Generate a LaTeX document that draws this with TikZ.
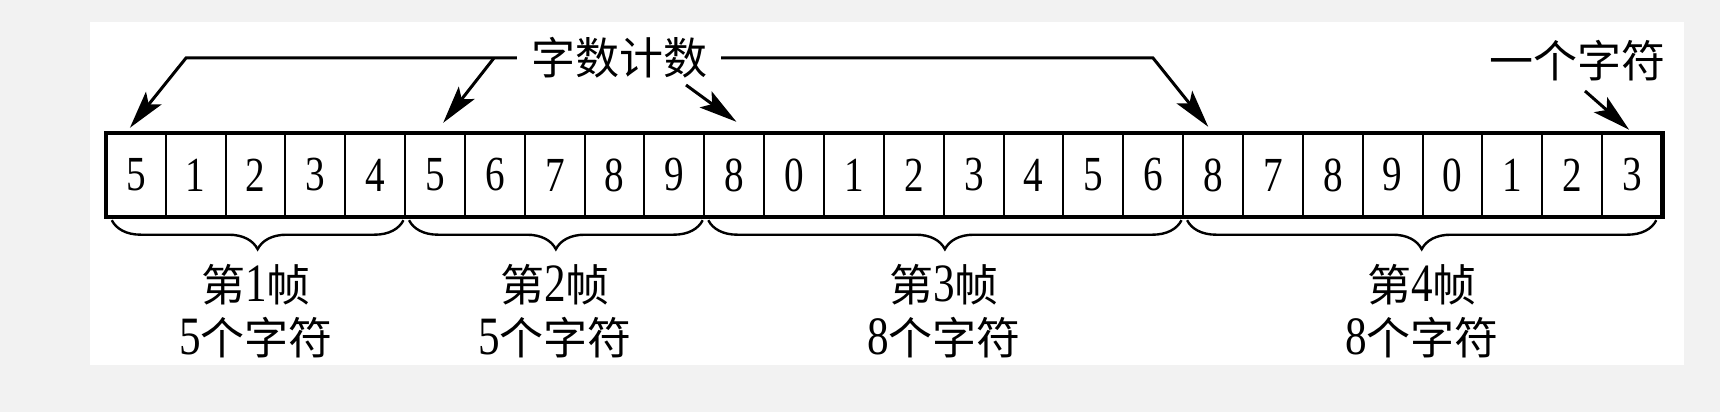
\documentclass[tikz,border=0pt]{standalone}
\usepackage{fontspec}
\setmainfont{Liberation Serif}
\newfontfamily\cjk{Noto Sans CJK SC}
\newfontfamily\dig[FakeStretch=0.8]{Liberation Serif}
\usetikzlibrary{arrows.meta,decorations.pathreplacing,calc}
\definecolor{bgout}{RGB}{242,242,242}
\begin{document}
\begin{tikzpicture}[x=1pt,y=-1pt,
  cell/.style={minimum width=59.85pt,minimum height=84pt,inner sep=0pt,font=\dig\fontsize{49}{49}\selectfont},
  arr/.style={line width=3pt,-{Stealth[length=38pt,width=20pt,inset=8pt]}},
  brc/.style={decorate,decoration={brace,mirror,amplitude=29pt},line width=2.4pt},
  lbl/.style={inner sep=0pt,font=\cjk\fontsize{44}{44}\selectfont}
]
\fill[bgout] (0,0) rectangle (1720,412);
\fill[white] (90,22) rectangle (1684,365);
\useasboundingbox (0,0) rectangle (1720,412);

% cells
\foreach \v [count=\i from 0] in {5,1,2,3,4,5,6,7,8,9,8,0,1,2,3,4,5,6,8,7,8,9,0,1,2,3}{
  \node[cell] (c\i) at ({106+59.85*\i+29.925},175) {\v};
}
\foreach \i in {1,...,25}{
  \draw[line width=2pt] (c\i.north west) -- (c\i.south west);
}
\draw[line width=4.5pt] (c0.north west) rectangle (c25.south east);

% top labels
\node[lbl] (cnt) at (619,58) {字数计数};
\node[lbl] (chr) at (1577,61) {一个字符};

\coordinate (k1) at (186,58);
\coordinate (k2) at (494,58);
\coordinate (k3) at (1153,58);
\coordinate (k4) at (686,85);
\coordinate (k5) at (1585,91);

\draw[arr,line join=miter] ([xshift=-14pt]cnt.west) -- (k1) -- ([xshift=-6pt,yshift=5pt]c0.north);
\draw[arr] (k2) -- ([xshift=8pt,yshift=10pt]c5.north);
\draw[arr,line join=miter] ([xshift=14pt]cnt.east) -- (k3) -- ([xshift=-5pt,yshift=6pt]c18.north);
\draw[arr] (k4) -- ([xshift=2pt,yshift=11pt]c10.north);
\draw[arr] (k5) -- ([xshift=-3pt,yshift=3pt]c25.north);

% braces
\draw[brc] ([xshift=6pt,yshift=-3pt]c0.south west) -- ([xshift=-2pt,yshift=-3pt]c4.south east);
\draw[brc] ([xshift=4pt,yshift=-3pt]c5.south west) -- ([xshift=-2pt,yshift=-3pt]c9.south east);
\draw[brc] ([xshift=4pt,yshift=-3pt]c10.south west) -- ([xshift=-2pt,yshift=-3pt]c17.south east);
\draw[brc] ([xshift=4pt,yshift=-3pt]c18.south west) -- ([xshift=-6pt,yshift=-3pt]c25.south east);

% frame labels
\node[lbl] (f1a) at (256,285) {第{\dig\fontsize{54}{44}\selectfont 1}帧};
\node[lbl] (f1b) at (256,338) {{\dig\fontsize{54}{44}\selectfont 5}个字符};
\node[lbl] (f2a) at (555,285) {第{\dig\fontsize{54}{44}\selectfont 2}帧};
\node[lbl] (f2b) at (555,338) {{\dig\fontsize{54}{44}\selectfont 5}个字符};
\node[lbl] (f3a) at (944,285) {第{\dig\fontsize{54}{44}\selectfont 3}帧};
\node[lbl] (f3b) at (944,338) {{\dig\fontsize{54}{44}\selectfont 8}个字符};
\node[lbl] (f4a) at (1422,285) {第{\dig\fontsize{54}{44}\selectfont 4}帧};
\node[lbl] (f4b) at (1422,338) {{\dig\fontsize{54}{44}\selectfont 8}个字符};
\end{tikzpicture}
\end{document}
